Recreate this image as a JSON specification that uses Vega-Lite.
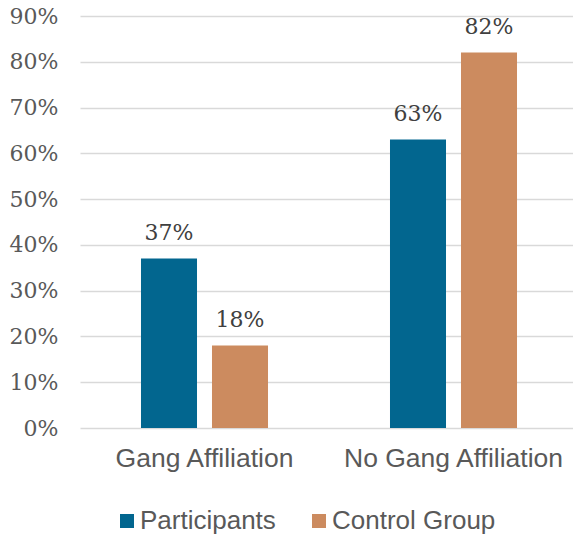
{
  "$schema": "https://vega.github.io/schema/vega-lite/v6.json",
  "autosize": "none",
  "width": 493,
  "height": 412,
  "padding": {"left": 80, "top": 16, "right": 0, "bottom": 109},
  "background": "white",
  "data": {
    "values": [
      {"category": "Gang Affiliation", "group": "Participants", "value": 0.37, "label": "37%"},
      {"category": "Gang Affiliation", "group": "Control Group", "value": 0.18, "label": "18%"},
      {"category": "No Gang Affiliation", "group": "Participants", "value": 0.63, "label": "63%"},
      {"category": "No Gang Affiliation", "group": "Control Group", "value": 0.82, "label": "82%"}
    ]
  },
  "encoding": {
    "x": {
      "field": "category", "type": "nominal", "sort": null,
      "scale": {"paddingInner": 0, "paddingOuter": 0, "range": [0, 498]},
      "axis": {"title": null, "labelAngle": 0, "domain": false, "ticks": false, "labelFont": "Liberation Sans", "labelFontSize": 26.5, "labelColor": "#595959", "labelPadding": 17, "labelLimit": 0}
    },
    "xOffset": {
      "field": "group", "type": "nominal", "sort": ["Participants", "Control Group"],
      "scale": {"paddingInner": 0.211, "paddingOuter": 0.859}
    },
    "y": {
      "field": "value", "type": "quantitative",
      "scale": {"domain": [0, 0.9], "nice": false},
      "axis": {"title": null, "format": ".0%", "values": [0, 0.1, 0.2, 0.3, 0.4, 0.5, 0.6, 0.7, 0.8, 0.9], "domain": false, "ticks": false, "grid": true, "gridColor": "#D9D9D9", "gridWidth": 1.5, "labelFont": "DejaVu Serif", "labelFontSize": 22, "labelColor": "#595959", "labelPadding": 22}
    }
  },
  "layer": [
    {
      "mark": {"type": "bar"},
      "encoding": {
        "color": {
          "field": "group", "type": "nominal",
          "scale": {"domain": ["Participants", "Control Group"], "range": ["#02668F", "#CC8B5F"]},
          "legend": {
            "title": null, "orient": "none", "direction": "horizontal",
            "legendX": 34, "legendY": 492,
            "symbolType": "square", "symbolSize": 196, "symbolStrokeWidth": 0,
            "labelFont": "Liberation Sans", "labelFontSize": 26, "labelColor": "#595959",
            "labelOffset": 0, "columnPadding": 30, "labelLimit": 0
          }
        }
      }
    },
    {
      "mark": {"type": "text", "baseline": "bottom", "dy": -14, "font": "DejaVu Serif", "fontSize": 22, "color": "#404040"},
      "encoding": {"text": {"field": "label"}}
    }
  ],
  "config": {"view": {"stroke": null}}
}
